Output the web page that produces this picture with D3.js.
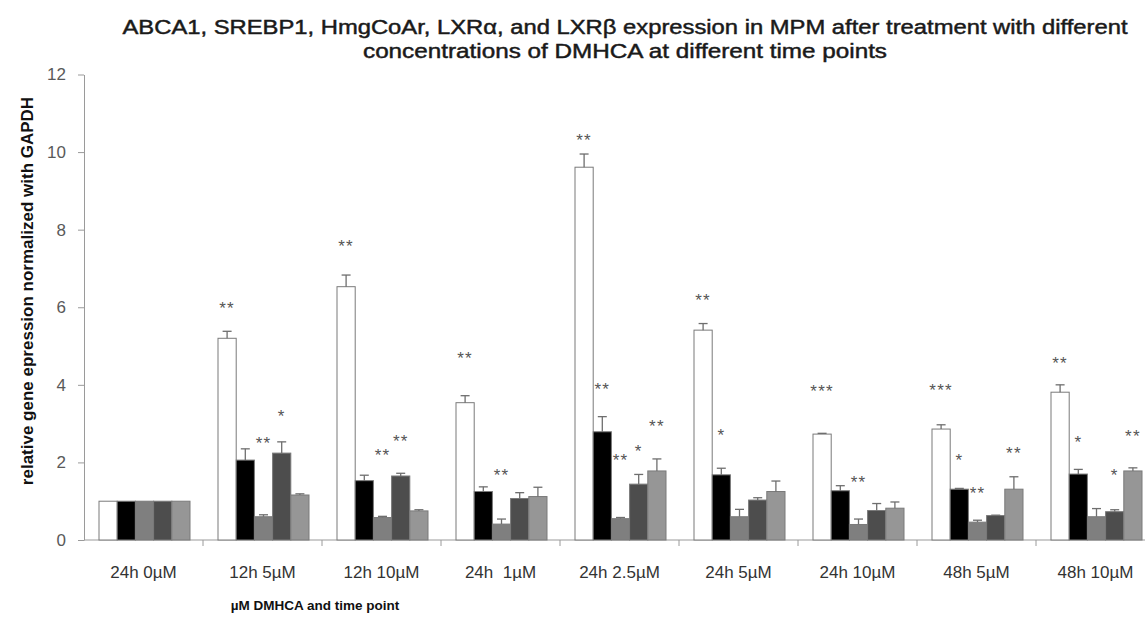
<!DOCTYPE html>
<html>
<head>
<meta charset="utf-8">
<script src="https://cdn.jsdelivr.net/npm/d3@7"></script>
<style>
  html, body { margin: 0; padding: 0; background: #fff; }
  svg { display: block; }
  text { font-family: "Liberation Sans", Arial, sans-serif; }
</style>
</head>
<body>
<svg id="chart" width="1145" height="618"></svg>
<script>
// Treatment groups (time point and DMHCA concentration)
const groups = ["24h 0µM", "12h 5µM", "12h 10µM", "24h  1µM", "24h 2.5µM",
                "24h 5µM", "24h 10µM", "48h 5µM", "48h 10µM"];

// Genes measured in each group
const genes = ["ABCA1", "SREBP1", "HmgCoAr", "LXRα", "LXRβ"];

// Mean relative expression (normalized with GAPDH), one array per gene
const abca1   = [1.00, 5.20, 6.53, 3.54, 9.61, 5.41, 2.73, 2.86, 3.81];
const srebp1  = [1.00, 2.06, 1.53, 1.25, 2.79, 1.68, 1.27, 1.31, 1.70];
const hmgcoar = [1.00, 0.60, 0.58, 0.41, 0.55, 0.60, 0.40, 0.46, 0.60];
const lxra    = [1.00, 2.24, 1.65, 1.07, 1.44, 1.03, 0.76, 0.63, 0.73];
const lxrb    = [1.00, 1.16, 0.75, 1.12, 1.78, 1.25, 0.82, 1.31, 1.78];

// Upper error (SD) per gene
const abca1Err   = [0, 0.18, 0.30, 0.18, 0.34, 0.17, 0.02, 0.11, 0.19];
const srebp1Err  = [0, 0.29, 0.14, 0.12, 0.39, 0.17, 0.13, 0.02, 0.12];
const hmgcoarErr = [0, 0.05, 0.03, 0.13, 0.03, 0.19, 0.14, 0.05, 0.21];
const lxraErr    = [0, 0.29, 0.07, 0.15, 0.25, 0.06, 0.18, 0.01, 0.05];
const lxrbErr    = [0, 0.03, 0.03, 0.24, 0.31, 0.27, 0.16, 0.32, 0.08];

// Significance marks and the value level each one is written at
const abca1Sig   = ["", "**", "**", "**", "**", "**", "***", "***", "**"];
const abca1SigAt = [0, 6.06, 7.65, 4.77, 10.39, 6.26, 3.91, 3.94, 4.64];
const srebp1Sig   = ["", "", "", "", "**", "*", "", "*", "*"];
const srebp1SigAt = [0, 0, 0, 0, 3.98, 2.78, 0, 2.13, 2.60];
const hmgcoarSig   = ["", "**", "**", "**", "**", "", "**", "**", ""];
const hmgcoarSigAt = [0, 2.58, 2.28, 1.76, 2.14, 0, 1.57, 1.29, 0];
const lxraSig   = ["", "*", "**", "", "*", "", "", "", "*"];
const lxraSigAt = [0, 3.27, 2.63, 0, 2.38, 0, 0, 0, 1.76];
const lxrbSig   = ["", "", "", "", "**", "", "", "**", "**"];
const lxrbSigAt = [0, 0, 0, 0, 3.02, 0, 0, 2.31, 2.75];

// Y tick values
const yTicks = [0, 2, 4, 6, 8, 10, 12];

const titleLines = [
  "ABCA1, SREBP1, HmgCoAr, LXRα, and LXRβ expression in MPM after treatment with different",
  "concentrations of DMHCA at different time points"
];
const xTitle = "µM DMHCA and time point";
const yTitle = "relative gene epression normalized with GAPDH";

const series = [
  { gene: genes[0], values: abca1,   err: abca1Err,   sig: abca1Sig,   sigAt: abca1SigAt,   fill: "#ffffff" },
  { gene: genes[1], values: srebp1,  err: srebp1Err,  sig: srebp1Sig,  sigAt: srebp1SigAt,  fill: "#000000" },
  { gene: genes[2], values: hmgcoar, err: hmgcoarErr, sig: hmgcoarSig, sigAt: hmgcoarSigAt, fill: "#7f7f7f" },
  { gene: genes[3], values: lxra,    err: lxraErr,    sig: lxraSig,    sigAt: lxraSigAt,    fill: "#4d4d4d" },
  { gene: genes[4], values: lxrb,    err: lxrbErr,    sig: lxrbSig,    sigAt: lxrbSigAt,    fill: "#969696" }
];

const svg = d3.select("#chart");
const left = 84, baseY = 540, topY = 74.5, groupW = 119;

const x0 = d3.scaleBand().domain(groups)
  .range([left, left + groupW * groups.length]).padding(0);
const x1 = d3.scaleBand().domain(genes).range([15, 106]).padding(0);
const y = d3.scaleLinear().domain([0, 12]).range([baseY, topY]);

// Title (regular face with a thin outline for a medium weight)
svg.append("g").selectAll("text").data(titleLines).join("text")
  .attr("x", 625).attr("y", (d, i) => 34 + i * 23.5)
  .attr("text-anchor", "middle")
  .attr("font-size", 19.5)
  .attr("fill", "#1a1a1a")
  .attr("stroke", "#1a1a1a")
  .attr("stroke-width", 0.45)
  .attr("textLength", (d, i) => i === 0 ? 1005 : 524)
  .attr("lengthAdjust", "spacingAndGlyphs")
  .text(d => d);

// Y axis
const yAxis = svg.append("g").attr("transform", `translate(${left},0)`)
  .call(d3.axisLeft(y).tickValues(yTicks).tickSize(6).tickPadding(12).tickSizeOuter(0));
yAxis.select(".domain").attr("stroke", "#9a9a9a");
yAxis.selectAll(".tick line").attr("stroke", "#9a9a9a");
yAxis.selectAll(".tick text")
  .attr("font-family", "Lato, 'Open Sans', sans-serif")
  .attr("font-size", 17).attr("fill", "#595959");

// X axis line and group separators
svg.append("line")
  .attr("x1", left).attr("x2", 1145).attr("y1", baseY).attr("y2", baseY)
  .attr("stroke", "#9a9a9a");
svg.append("g").selectAll("line").data(groups).join("line")
  .attr("x1", d => x0(d) + x0.bandwidth()).attr("x2", d => x0(d) + x0.bandwidth())
  .attr("y1", baseY).attr("y2", baseY + 6)
  .attr("stroke", "#9a9a9a");

// Group labels
svg.append("g").selectAll("text").data(groups).join("text")
  .attr("x", d => x0(d) + x0.bandwidth() / 2)
  .attr("y", 578)
  .attr("text-anchor", "middle")
  .attr("font-size", 17)
  .attr("fill", "#333")
  .style("white-space", "pre")
  .text(d => d);

// Bars
const rows = series.flatMap(s => groups.map((g, i) => ({
  group: g, gene: s.gene, v: s.values[i], e: s.err[i],
  sig: s.sig[i], sigAt: s.sigAt[i], fill: s.fill
})));

const gBars = svg.append("g");
gBars.selectAll("rect").data(rows).join("rect")
  .attr("x", d => x0(d.group) + x1(d.gene))
  .attr("y", d => y(d.v))
  .attr("width", x1.bandwidth())
  .attr("height", d => baseY - y(d.v))
  .attr("fill", d => d.fill)
  .attr("stroke", "#7a7a7a")
  .attr("stroke-width", 1);

// Error bars (upper half)
const errRows = rows.filter(d => d.e > 0);
const gErr = svg.append("g").attr("stroke", "#6e6e6e").attr("stroke-width", 1.3);
gErr.selectAll("line.stem").data(errRows).join("line").attr("class", "stem")
  .attr("x1", d => x0(d.group) + x1(d.gene) + x1.bandwidth() / 2)
  .attr("x2", d => x0(d.group) + x1(d.gene) + x1.bandwidth() / 2)
  .attr("y1", d => y(d.v)).attr("y2", d => y(d.v + d.e));
gErr.selectAll("line.cap").data(errRows).join("line").attr("class", "cap")
  .attr("x1", d => x0(d.group) + x1(d.gene) + x1.bandwidth() / 2 - 4.5)
  .attr("x2", d => x0(d.group) + x1(d.gene) + x1.bandwidth() / 2 + 4.5)
  .attr("y1", d => y(d.v + d.e)).attr("y2", d => y(d.v + d.e));

// Significance marks
svg.append("g").selectAll("text").data(rows.filter(d => d.sig)).join("text")
  .attr("x", d => x0(d.group) + x1(d.gene) + x1.bandwidth() / 2)
  .attr("y", d => y(d.sigAt) + 9)
  .attr("text-anchor", "middle")
  .attr("font-size", 17)
  .attr("letter-spacing", 1.2)
  .attr("fill", "#555")
  .text(d => d.sig);

// Axis titles
svg.append("text")
  .attr("x", 315).attr("y", 610)
  .attr("text-anchor", "middle")
  .attr("font-size", 13.5).attr("font-weight", "bold").attr("fill", "#111")
  .text(xTitle);
svg.append("text")
  .attr("transform", "translate(33,291) rotate(-90)")
  .attr("text-anchor", "middle")
  .attr("font-size", 17).attr("font-weight", "bold").attr("fill", "#111")
  .text(yTitle);
</script>
</body>
</html>
